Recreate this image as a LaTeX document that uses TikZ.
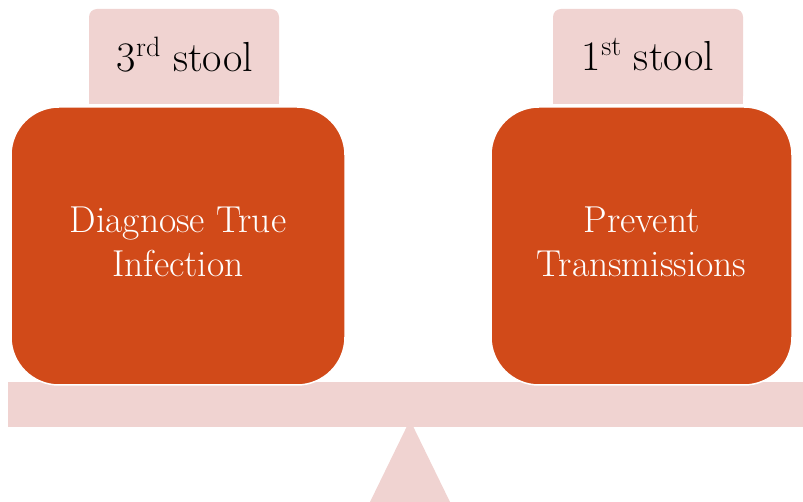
\documentclass[tikz,border=0pt]{standalone}
\definecolor{rust}{HTML}{D14A19}
\definecolor{blush}{HTML}{F0D3D1}
\newcommand{\mysup}[1]{\raisebox{0.36em}{\fontsize{28}{28}\selectfont #1}}
\tikzset{
  stoolbox/.style={fill=blush, rounded corners=8pt, minimum width=190pt, minimum height=95pt, inner sep=0pt},
  stooltext/.style={font=\fontsize{42}{50}\selectfont},
  bigbox/.style={fill=rust, draw=white, line width=1.5pt, rounded corners=48pt, minimum width=334pt, minimum height=278pt, inner sep=0pt, align=center, text=white, font=\fontsize{37.5}{44}\selectfont},
}
\begin{document}
\begin{tikzpicture}[x=1pt,y=-1pt]
\useasboundingbox (0,0) rectangle (803,502);
% fulcrum and beam
\fill[blush] (410,420) -- (450,502) -- (370,502) -- cycle;
\fill[blush] (8,382) rectangle (803,427);
% stool labels
\node[stoolbox] (s3) at (184,56.5) {};
\fill[blush] (s3.west) rectangle (s3.south east);
\node[stooltext] (s3t) at (185,55) {3\mysup{rd} stool};
\node[stoolbox] (s1) at (648,56.5) {};
\fill[blush] (s1.west) rectangle (s1.south east);
\node[stooltext] (s1t) at (648,55) {1\mysup{st} stool};
% weights
\node[bigbox] (diag) at (178,246) {};
\node[bigbox, fill=none, draw=none] (diagt) at (178,242) {Diagnose True\\Infection};
\node[bigbox, minimum width=301pt] (prev) at (641.5,246) {};
\node[bigbox, fill=none, draw=none, minimum width=301pt] (prevt) at (641.5,242) {Prevent\\Transmissions};
\end{tikzpicture}
\end{document}
